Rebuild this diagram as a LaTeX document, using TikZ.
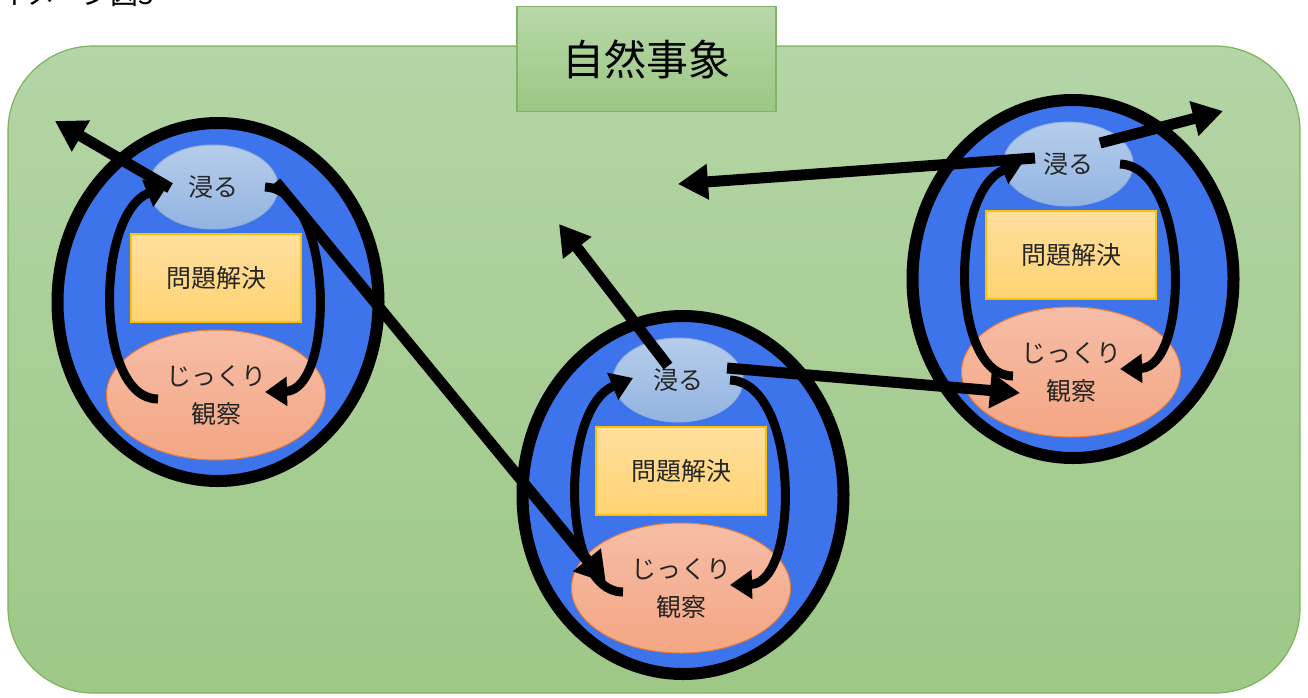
\documentclass[tikz,border=0pt]{standalone}
\usepackage{fontspec}
\setmainfont{Noto Sans CJK JP}
\usetikzlibrary{arrows.meta,shapes.geometric,calc}
\definecolor{ringblue}{HTML}{3E74EB}
\definecolor{immtop}{HTML}{B6CDEB}
\definecolor{immbot}{HTML}{92B4E1}
\definecolor{immline}{HTML}{8EB0DD}
\definecolor{probtop}{HTML}{FFDF9F}
\definecolor{probbot}{HTML}{FFD372}
\definecolor{probline}{HTML}{FFC000}
\definecolor{obstop}{HTML}{F6BDA6}
\definecolor{obsbot}{HTML}{F4A683}
\definecolor{obsline}{HTML}{ED7D31}
\definecolor{bgtop}{HTML}{B4D5A6}
\definecolor{bgbot}{HTML}{9DC886}
\definecolor{bgline}{HTML}{7CB45C}
\definecolor{ttltop}{HTML}{B7D8A9}
\definecolor{ttlbot}{HTML}{9CC783}
\definecolor{ttlline}{HTML}{82B366}
\definecolor{labelgray}{HTML}{262626}
\tikzset{
 ring/.style={ellipse, draw=black, line width=12pt, fill=ringblue, minimum width=321pt, minimum height=358pt, inner sep=0pt},
 immbox/.style={ellipse, draw=immline, line width=1pt, top color=immtop, bottom color=immbot, minimum width=130pt, minimum height=84pt, inner sep=0pt, font=\fontsize{25}{36}\selectfont, text=labelgray},
 probbox/.style={rectangle, draw=probline, line width=1.5pt, top color=probtop, bottom color=probbot, minimum width=170pt, minimum height=88pt, inner sep=0pt, font=\fontsize{25}{36}\selectfont, text=labelgray},
 obsbox/.style={ellipse, draw=obsline, line width=1pt, top color=obstop, bottom color=obsbot, minimum width=219pt, minimum height=130pt, inner sep=0pt, font=\fontsize{25}{38}\selectfont, text=labelgray, align=center},
 cyc/.style={draw=black, line width=9pt, -{Triangle[length=22pt,width=28pt]}},
 bigarrow/.style={draw=black, line width=11pt, -{Triangle[length=30pt,width=34pt]}},
 bigbox/.style={rectangle, rounded corners=85pt, draw=bgline, line width=1.2pt, top color=bgtop, bottom color=bgbot, minimum width=1292pt, minimum height=647pt, inner sep=0pt},
 titlebox/.style={rectangle, draw=ttlline, line width=1.5pt, top color=ttltop, bottom color=ttlbot, minimum width=259pt, minimum height=105pt, inner sep=0pt, font=\fontsize{42}{42}\selectfont},
}
\newcommand\obsgroup[3]{%
 \begin{scope}[shift={(#2,#3)}]
  \node[ring] (#1ring) at (218,302) {};
  \node[immbox] (#1imm) at (213,187) {浸る};
  \node[probbox] (#1prob) at (216,278) {問題解決};
  \node[obsbox] (#1obs) at (216,395) {じっくり\\観察};
  \coordinate (#1cA) at (158,399);
  \coordinate (#1cB) at (168,185);
  \coordinate (#1cC) at (265,187);
  \coordinate (#1cD) at (265,392);
  \draw[cyc] (#1cA) .. controls (95,399) and (95,215) .. (#1cB);
  \draw[cyc] (#1cC) .. controls (335,190) and (335,390) .. (#1cD);
 \end{scope}}
\begin{document}
\begin{tikzpicture}[x=1pt,y=-1pt]
\useasboundingbox (0,0) rectangle (1308,697);
\fill[white] (0,0) rectangle (1308,697);
\node[anchor=base west, inner sep=0pt, font=\fontsize{28}{28}\selectfont] (heading) at (-1,4) {イメージ図3};
\node[bigbox] (nature) at (654,369.5) {};
\node[titlebox] (title) at (646.5,59) {自然事象};
\obsgroup{L}{0}{0}
\obsgroup{M}{465}{193}
\obsgroup{R}{855}{-23}
% straight arrows
\coordinate (a1s) at (170,188);
\coordinate (a1e) at (55,121);
\coordinate (a2s) at (276,182);
\coordinate (a2e) at (606,583);
\coordinate (a3s) at (668,366);
\coordinate (a3e) at (559,224);
\coordinate (a4s) at (727,368);
\coordinate (a4e) at (1020,393);
\coordinate (a5s) at (1035,158);
\coordinate (a5e) at (678,184);
\coordinate (a6s) at (1100,143);
\coordinate (a6e) at (1223,111);
\draw[bigarrow] (a1s) -- (a1e);
\draw[bigarrow] (a2s) -- (a2e);
\draw[bigarrow] (a3s) -- (a3e);
\draw[bigarrow] (a4s) -- (a4e);
\draw[bigarrow] (a5s) -- (a5e);
\draw[bigarrow] (a6s) -- (a6e);
\end{tikzpicture}
\end{document}
